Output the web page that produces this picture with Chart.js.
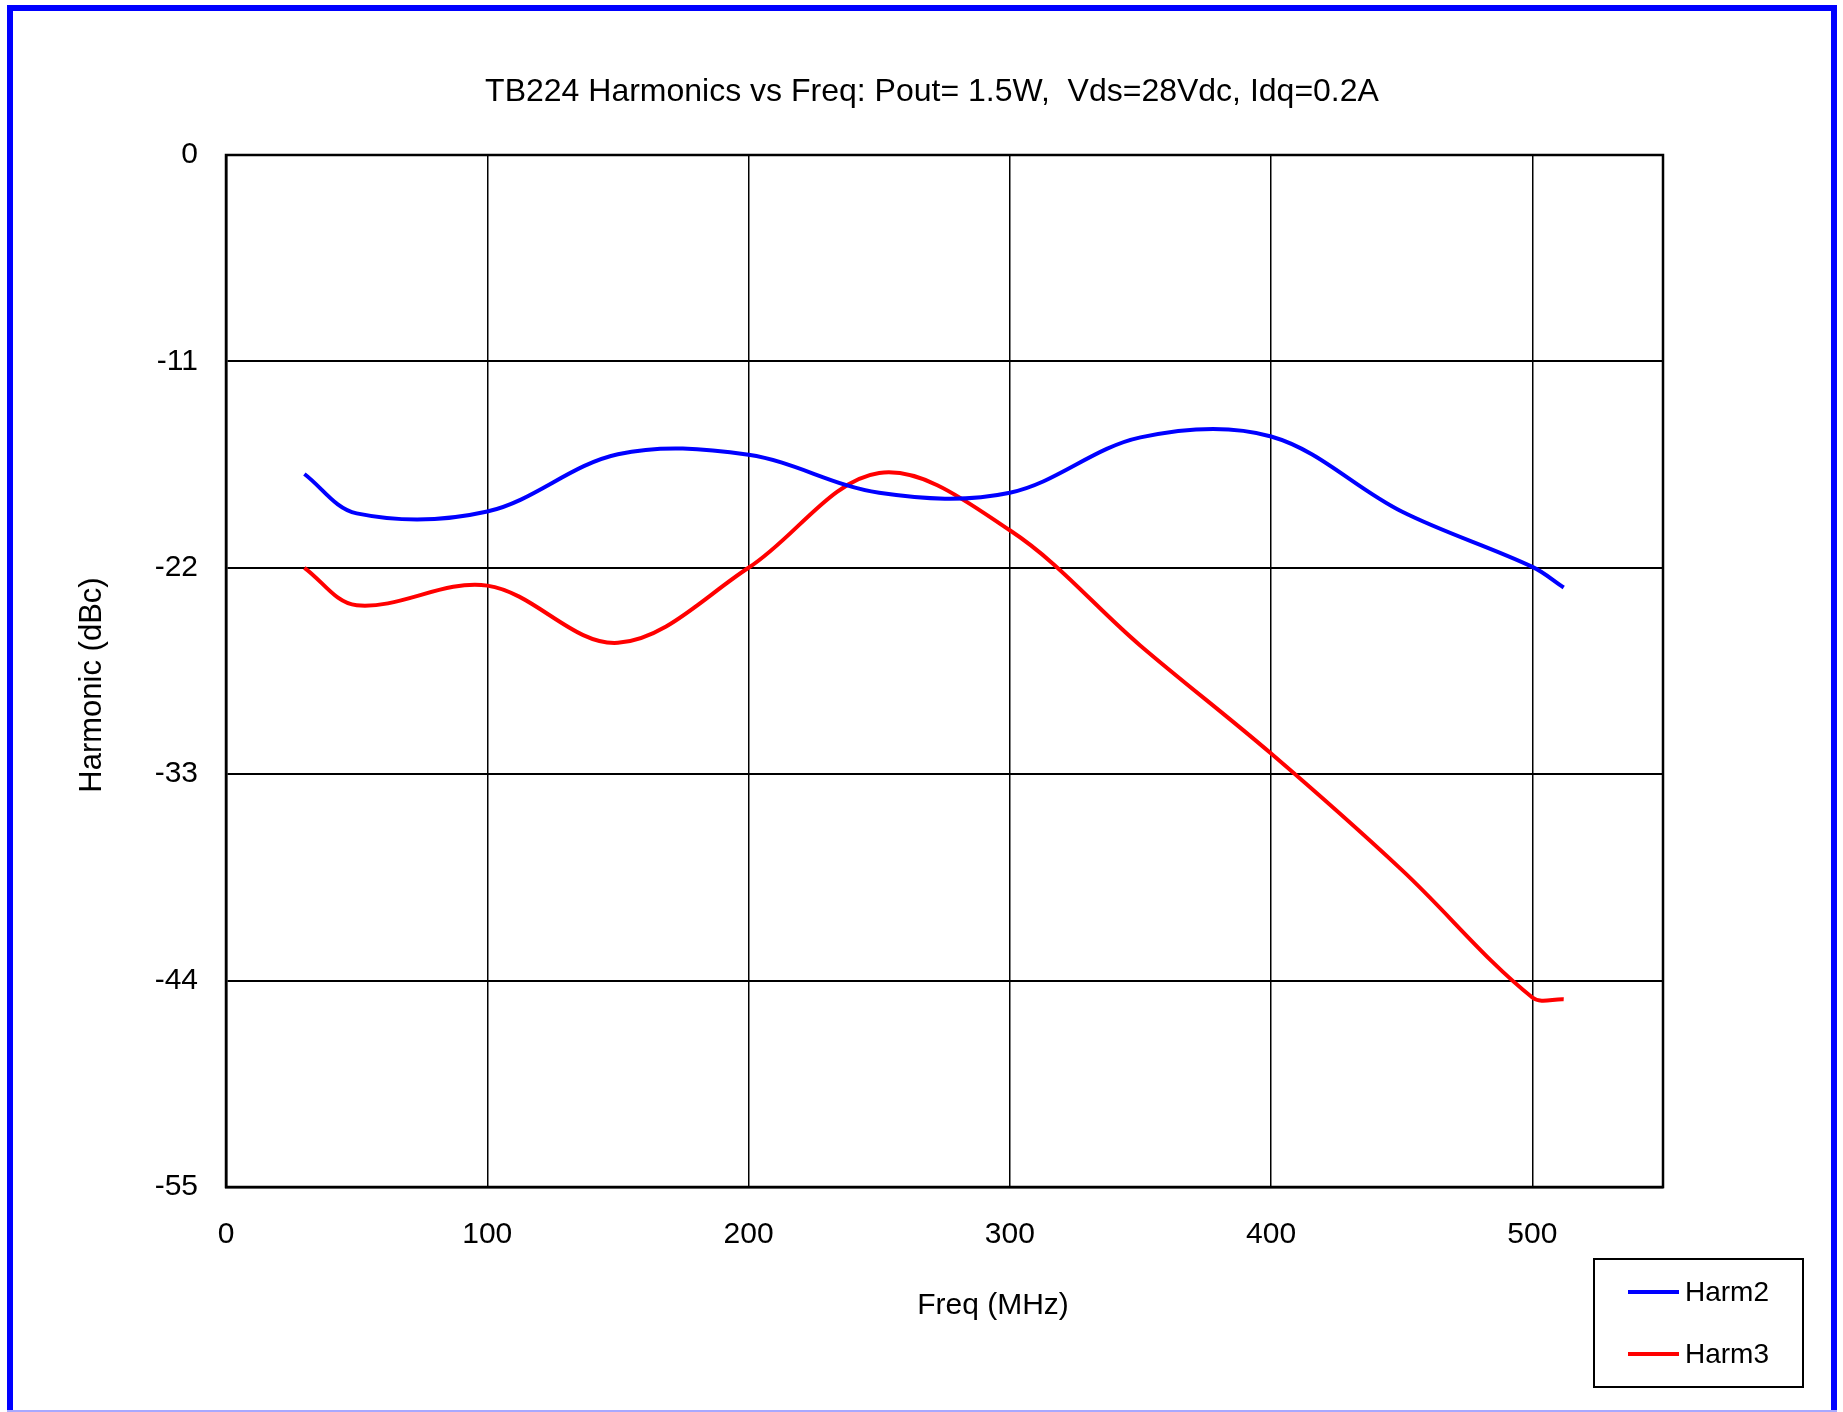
<!DOCTYPE html>
<html>
<head>
<meta charset="utf-8">
<script src="https://cdn.jsdelivr.net/npm/chart.js@4/dist/chart.umd.min.js"></script>
<style>
    html, body { margin: 0; padding: 0; background: #fff; }
    #caixa { position: relative; width: 1843px; height: 1412px; }
</style>
</head>
<body>
<div id="caixa"><canvas id="graficoHarmonicos"></canvas></div>
<script>
const titulo = 'TB224 Harmonics vs Freq: Pout= 1.5W,  Vds=28Vdc, Idq=0.2A';
const tituloX = 'Freq (MHz)';
const tituloY = 'Harmonic (dBc)';

const ticksX = [0, 100, 200, 300, 400, 500];
const ticksY = [0, -11, -22, -33, -44, -55];

// frequencias medidas (MHz)
const freqs = [30, 50, 100, 150, 200, 250, 300, 350, 400, 450, 500, 512];
const harm2 = [-17.0, -19.1, -19.0, -15.95, -15.98, -18.0, -18.0, -15.05, -15.0, -19.0, -21.95, -23.05];
const harm3 = [-22.0, -24.0, -22.95, -26.0, -22.0, -16.95, -20.0, -26.15, -31.9, -38.1, -44.9, -45.0];

const fonte = '"Liberation Sans", Arial, sans-serif';

function pontos(xs, ys) {
    return xs.map((x, i) => ({ x: x, y: ys[i] }));
}

// moldura azul, titulos e legenda desenhados por cima do grafico
const extras = {
    id: 'extras',
    beforeDraw(chart) {
        const ctx = chart.ctx;
        ctx.save();
        ctx.fillStyle = '#fff';
        ctx.fillRect(0, 0, chart.width, chart.height);
        ctx.restore();
    },
    afterDraw(chart) {
        const ctx = chart.ctx;
        const a = chart.chartArea;
        ctx.save();

        ctx.strokeStyle = '#000';
        ctx.lineWidth = 2.5;
        ctx.strokeRect(a.left, a.top, a.right - a.left, a.bottom - a.top);

        ctx.strokeStyle = '#0000ff';
        ctx.lineWidth = 6;
        ctx.strokeRect(10, 8, 1824, 1430);
        ctx.strokeStyle = '#a8a8ff';
        ctx.lineWidth = 2;
        ctx.beginPath();
        ctx.moveTo(7, 1411);
        ctx.lineTo(1837, 1411);
        ctx.stroke();

        ctx.fillStyle = '#000';
        ctx.textAlign = 'center';
        ctx.textBaseline = 'middle';
        ctx.font = '32px ' + fonte;
        ctx.fillText(titulo, 932, 92);
        ctx.font = '30px ' + fonte;
        ctx.fillText(tituloX, 993, 1306);

        ctx.save();
        ctx.translate(92, 685);
        ctx.rotate(-Math.PI / 2);
        ctx.font = '31px ' + fonte;
        ctx.fillText(tituloY, 0, 0);
        ctx.restore();

        // legenda
        ctx.font = '28px ' + fonte;
        ctx.strokeStyle = '#000';
        ctx.lineWidth = 2;
        ctx.strokeRect(1594, 1259, 209, 128);
        ctx.textAlign = 'left';
        chart.data.datasets.forEach((ds, i) => {
            const y = 1292 + i * 62;
            ctx.strokeStyle = ds.borderColor;
            ctx.lineWidth = 4;
            ctx.beginPath();
            ctx.moveTo(1628, y);
            ctx.lineTo(1679, y);
            ctx.stroke();
            ctx.fillStyle = '#000';
            ctx.fillText(ds.label, 1685, y + 1);
        });

        ctx.restore();
    }
};

const ctx = document.getElementById('graficoHarmonicos').getContext('2d');
new Chart(ctx, {
    type: 'line',
    data: {
        datasets: [
            {
                label: 'Harm2',
                data: pontos(freqs, harm2),
                borderColor: '#0000ff',
                borderWidth: 4,
                pointRadius: 0,
                tension: 0.35,
                fill: false
            },
            {
                label: 'Harm3',
                data: pontos(freqs, harm3),
                borderColor: '#ff0000',
                borderWidth: 4,
                pointRadius: 0,
                tension: 0.35,
                fill: false
            }
        ]
    },
    options: {
        responsive: true,
        maintainAspectRatio: false,
        animation: false,
        layout: { padding: { top: 155, right: 180, left: 0, bottom: 0 } },
        plugins: {
            legend: { display: false },
            title: { display: false },
            tooltip: { enabled: false }
        },
        scales: {
            x: {
                type: 'linear',
                min: 0,
                max: 550,
                afterBuildTicks: axis => { axis.ticks = ticksX.map(v => ({ value: v })); },
                afterFit: scale => { scale.height = 225; },
                grid: { color: '#000', lineWidth: 1.5, drawTicks: false },
                border: { color: '#000', width: 2.5 },
                ticks: { color: '#000', padding: 30, maxRotation: 0, font: { family: fonte, size: 30 } }
            },
            y: {
                type: 'linear',
                min: -55,
                max: 0,
                afterBuildTicks: axis => { axis.ticks = ticksY.map(v => ({ value: v })); },
                afterFit: scale => { scale.width = 226; },
                grid: { color: '#000', lineWidth: 2, drawTicks: false },
                border: { color: '#000', width: 2.5 },
                ticks: { color: '#000', padding: 28, font: { family: fonte, size: 30 } }
            }
        }
    },
    plugins: [extras]
});
</script>
</body>
</html>
